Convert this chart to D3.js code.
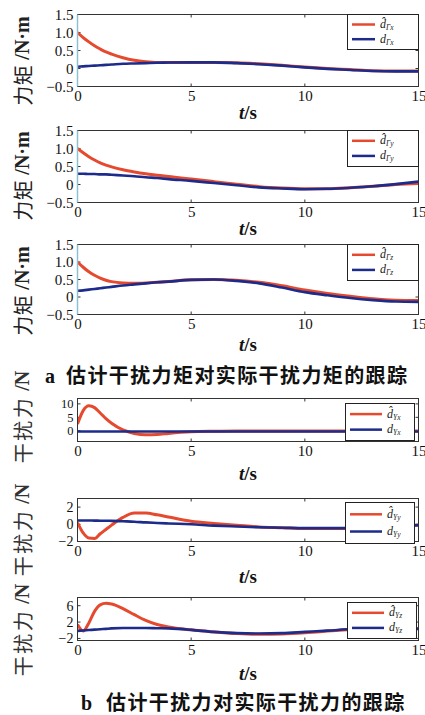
<!DOCTYPE html>
<html><head><meta charset="utf-8">
<script src="https://cdn.jsdelivr.net/npm/d3@7/dist/d3.min.js"></script>
<style>body{margin:0;background:#fff}svg{display:block}</style>
</head><body>
<svg id="c" width="425" height="715"></svg>
<script>
const tGrid = [0,0.25,0.5,0.75,1,1.25,1.5,2,2.5,3,3.5,4,5,6,7,8,9,10,11,12,13,14,15];
const xTicks = [0,5,10,15];
// torque panels
const torqueXEst = [1.0,0.86,0.74,0.63,0.54,0.46,0.40,0.30,0.23,0.19,0.17,0.17,0.17,0.17,0.16,0.13,0.09,0.04,0.0,-0.03,-0.06,-0.07,-0.07];
const torqueXAct = [0.05,0.06,0.07,0.08,0.09,0.10,0.11,0.13,0.14,0.15,0.16,0.165,0.17,0.17,0.15,0.12,0.08,0.03,-0.01,-0.04,-0.07,-0.08,-0.08];
const torqueYEst = [1.0,0.88,0.77,0.68,0.60,0.54,0.49,0.41,0.35,0.30,0.26,0.22,0.15,0.08,0.01,-0.06,-0.1,-0.12,-0.12,-0.09,-0.05,0.0,0.03];
const torqueYAct = [0.30,0.30,0.29,0.29,0.28,0.28,0.27,0.25,0.23,0.20,0.18,0.15,0.10,0.04,-0.02,-0.08,-0.11,-0.13,-0.12,-0.09,-0.05,0.01,0.08];
const torqueZEst = [1.0,0.85,0.72,0.62,0.54,0.48,0.44,0.40,0.39,0.40,0.42,0.44,0.49,0.50,0.48,0.42,0.32,0.20,0.10,0.02,-0.05,-0.09,-0.10];
const torqueZAct = [0.18,0.19,0.21,0.23,0.25,0.27,0.29,0.33,0.36,0.39,0.42,0.44,0.49,0.50,0.46,0.39,0.27,0.14,0.05,-0.03,-0.09,-0.13,-0.14];
const torqueTicks = [-0.5,0,0.5,1.0,1.5];
// force panels
const forceXEst = [2.5,7.5,9.3,8.6,6.6,4.5,2.8,0.3,-1.0,-1.5,-1.4,-1.0,-0.4,-0.2,-0.1,-0.1,-0.1,-0.1,-0.1,-0.1,-0.1,-0.1,-0.1];
const forceXAct = [-0.3,-0.3,-0.3,-0.3,-0.3,-0.3,-0.3,-0.3,-0.3,-0.3,-0.3,-0.3,-0.3,-0.3,-0.3,-0.3,-0.3,-0.3,-0.3,-0.3,-0.3,-0.3,-0.3];
const forceYEst = [0.2,-1.0,-1.6,-1.65,-1.1,-0.6,-0.1,0.8,1.3,1.3,1.1,0.85,0.35,0.1,-0.1,-0.3,-0.4,-0.5,-0.5,-0.45,-0.35,-0.2,-0.1];
const forceYAct = [0.45,0.45,0.44,0.43,0.42,0.41,0.4,0.35,0.3,0.22,0.16,0.1,0,-0.15,-0.25,-0.35,-0.4,-0.45,-0.45,-0.45,-0.35,-0.2,-0.1];
const forceZEst = [1.4,-0.2,1.8,4.6,6.2,6.6,6.4,5.3,3.8,2.4,1.4,0.8,0.1,-0.4,-0.8,-1.0,-0.9,-0.6,-0.2,0.2,0.5,0.5,0.4];
const forceZAct = [-0.15,-0.05,0.05,0.15,0.25,0.35,0.45,0.55,0.55,0.55,0.5,0.45,0.1,-0.4,-0.7,-0.8,-0.7,-0.4,-0.1,0.3,0.5,0.5,0.3];
const forceXTicks = [0,5,10];
const forceYTicks = [-2,0,2];
const forceZTicks = [-2,2,6];
const captionA = "估计干扰力矩对实际干扰力矩的跟踪";
const captionB = "估计干扰力对实际干扰力的跟踪";

const RED = "#e64a2e", BLUE = "#1d2b8a";
const svg = d3.select("#c");
const serif = "'Times New Roman','Liberation Serif','DejaVu Serif',serif";
const cjk = "'Noto Sans CJK SC','Noto Sans CJK JP',sans-serif";

const panels = [
 {est:torqueXEst, act:torqueXAct, dom:[-0.5,1.5], ticks:torqueTicks, top:14, bot:86, sub:"Γx", lab:"力矩", unit:" /N·m", labY:61, leg:[347,418,14,49], tsY:113, kind:"t", fs:15},
 {est:torqueYEst, act:torqueYAct, dom:[-0.5,1.5], ticks:torqueTicks, top:130, bot:202, sub:"Γy", lab:"力矩", unit:" /N·m", labY:176, leg:[347,418,130,166], tsY:229, kind:"t", fs:15},
 {est:torqueZEst, act:torqueZAct, dom:[-0.5,1.5], ticks:torqueTicks, top:244, bot:314, sub:"Γz", lab:"力矩", unit:" /N·m", labY:291, leg:[347,418,244,280], tsY:345, kind:"t", fs:15},
 {est:forceXEst, act:forceXAct, dom:[-4,12], ticks:forceXTicks, top:398, bot:441, sub:"Υx", lab:"干扰力", unit:" /N", labY:417, leg:[345,414,403,440], tsY:474, kind:"f", fs:12.5},
 {est:forceYEst, act:forceYAct, dom:[-2,3], ticks:forceYTicks, top:498, bot:541, sub:"Υy", lab:"干扰力", unit:" /N", labY:530, leg:[345,414,502,543], tsY:577, kind:"f", fs:14},
 {est:forceZEst, act:forceZAct, dom:[-2.5,8], ticks:forceZTicks, top:597, bot:640, sub:"Υz", lab:"干扰力", unit:" /N", labY:630, leg:[347,416,602,638], tsY:674, kind:"f", fs:14}
];

const L = 77.5, R = 418.5;
const x = d3.scaleLinear().domain([0,15]).range([L,R]);

panels.forEach(p => {
  const y = d3.scaleLinear().domain(p.dom).range([p.bot+0.5, p.top+0.5]);
  const g = svg.append("g");
  const clipId = "clip"+p.top;
  svg.append("clipPath").attr("id",clipId).append("rect").attr("x",L).attr("y",p.top).attr("width",R-L).attr("height",p.bot-p.top+1);

  const fmt = p.kind==="t" ? (d => d===0 ? "0" : (d<0?"\u2212":"")+Math.abs(d).toFixed(1)) : (d => (d<0?"\u2212":"")+Math.abs(d));
  const ya = d3.axisLeft(y).tickValues(p.ticks).tickSize(0).tickPadding(4).tickFormat(fmt);
  g.append("g").attr("transform",`translate(${L},0)`).call(ya)
    .call(s=>s.select(".domain").remove())
    .selectAll("text").attr("font-family",serif).attr("font-size",p.fs).attr("fill","#111");
  const xa = d3.axisBottom(x).tickValues(xTicks).tickSize(0).tickPadding(4).tickFormat(d3.format("d"));
  g.append("g").attr("transform",`translate(0,${p.bot})`).call(xa)
    .call(s=>s.select(".domain").remove())
    .selectAll("text").attr("font-family",serif).attr("font-size",15).attr("fill","#111");
  const tk = g.append("g").attr("stroke","#333").attr("stroke-width",1);
  xTicks.forEach(v=>{
    tk.append("line").attr("x1",x(v)).attr("x2",x(v)).attr("y1",p.top+0.5).attr("y2",p.top+3.5);
    tk.append("line").attr("x1",x(v)).attr("x2",x(v)).attr("y1",p.bot+0.5).attr("y2",p.bot-2.5);
  });
  p.ticks.forEach(v=>{
    tk.append("line").attr("x1",L).attr("x2",L+3).attr("y1",y(v)).attr("y2",y(v));
    tk.append("line").attr("x1",R).attr("x2",R-3).attr("y1",y(v)).attr("y2",y(v));
  });

  const line = d3.line().x((d,i)=>x(tGrid[i])).y(d=>y(d)).curve(d3.curveMonotoneX);
  const lg = g.append("g").attr("clip-path",`url(#${clipId})`);
  lg.append("path").datum(p.est).attr("d",line).attr("fill","none").attr("stroke",RED).attr("stroke-width",3).attr("stroke-linejoin","round");
  lg.append("path").datum(p.act).attr("d",line).attr("fill","none").attr("stroke",BLUE).attr("stroke-width",2.6).attr("stroke-linejoin","round");

  g.append("rect").attr("x",L).attr("y",p.top+0.5).attr("width",R-L).attr("height",p.bot-p.top)
    .attr("fill","none").attr("stroke","#333").attr("stroke-width",1);
  if (p.kind==="t") g.append("line").attr("x1",L).attr("x2",L).attr("y1",p.top+0.5).attr("y2",p.bot+0.5).attr("stroke","#8fc0d2").attr("stroke-width",1.5);

  const [lx0,lx1,ly0,ly1] = p.leg;
  g.append("rect").attr("x",lx0+0.5).attr("y",ly0+0.5).attr("width",lx1-lx0).attr("height",ly1-ly0)
    .attr("fill","#fff").attr("stroke","#222").attr("stroke-width",1);
  const lh = ly1-ly0;
  const r1 = ly0 + lh*0.3, r2 = ly0 + lh*0.72;
  const segA = lx0+5, segB = p.kind==="t" ? lx0+28 : lx0+37;
  [[r1,RED,true],[r2,BLUE,false]].forEach(([ry,col,hat])=>{
    g.append("line").attr("x1",segA).attr("x2",segB).attr("y1",ry).attr("y2",ry).attr("stroke",col).attr("stroke-width",2.5);
    const tx = segB+5;
    const t = g.append("text").attr("x",tx).attr("y",ry+3.5).attr("font-family",serif).attr("font-size",12).attr("fill","#222");
    t.append("tspan").attr("font-style","italic").text(hat ? "d\u0302" : "d");
    t.append("tspan").attr("font-size",7.5).attr("dy",2).attr("font-style","italic").text(p.sub);
  });

  const ts = g.append("text").attr("x",248).attr("y",p.tsY+6).attr("text-anchor","middle")
    .attr("font-family",serif).attr("font-size",19).attr("font-weight","bold").attr("fill","#111");
  ts.append("tspan").attr("font-style","italic").text("t");
  ts.append("tspan").text("/s");

  const yl = g.append("text").attr("transform",`translate(22,${p.labY}) rotate(-90)`).attr("text-anchor","middle")
    .attr("dominant-baseline","central").attr("fill", p.kind==="t" ? "#222" : "#333");
  yl.append("tspan").attr("font-family",cjk).attr("font-size",20).attr("letter-spacing",p.kind==="t"?0.5:2.5).text(p.lab);
  yl.append("tspan").attr("font-family",serif).attr("font-size",20).attr("font-weight","bold").text(p.unit);
});

function caption(letter, txt, lx, cx, by){
  svg.append("text").attr("x",lx).attr("y",by).attr("font-family",serif).attr("font-size",20).attr("font-weight","bold").attr("fill","#111").text(letter);
  svg.append("text").attr("x",cx).attr("y",by).attr("font-family",cjk).attr("font-size",20).attr("font-weight","bold").attr("letter-spacing",1.4).attr("fill","#111").text(txt);
}
caption("a", captionA, 45, 66, 383);
caption("b", captionB, 81, 106, 710);
</script>
</body></html>
